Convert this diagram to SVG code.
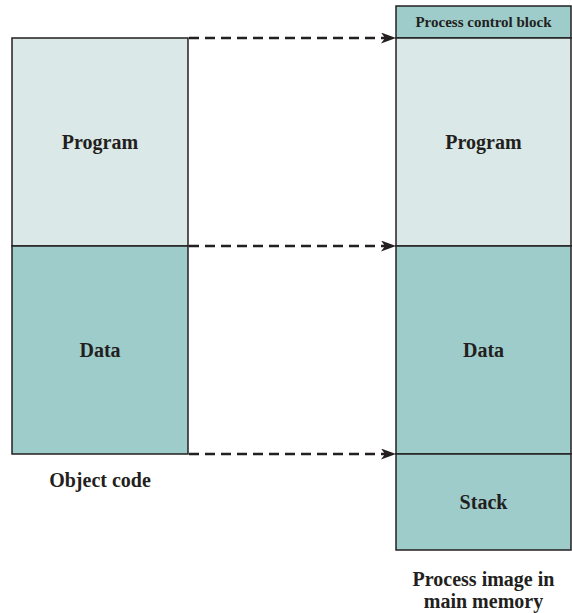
<svg xmlns="http://www.w3.org/2000/svg" width="572" height="613" viewBox="0 0 572 613">
<style>
.light{fill:#DAE8E7;stroke:#231F20;stroke-width:1.5}
.dark{fill:#9ECCCB;stroke:#231F20;stroke-width:1.5}
.t{font-family:"Liberation Serif",serif;font-weight:bold;fill:#231F20;text-anchor:middle}
.big{font-size:20px}
.small{font-size:15px}
.conn{stroke:#231F20;stroke-width:2.5;stroke-dasharray:10,6;fill:none}
</style>
<defs>
<marker id="ah" markerWidth="15" markerHeight="11" refX="14" refY="5.5" orient="auto" markerUnits="userSpaceOnUse">
<path d="M0,0 L15,5.5 L0,11 L4,5.5 Z" fill="#231F20"/>
</marker>
</defs>
<g id="object-code">
<g id="obj-program"><rect class="light" x="12" y="38" width="176" height="208"/><text class="t big" x="100" y="149">Program</text></g>
<g id="obj-data"><rect class="dark" x="12" y="246" width="176" height="208"/><text class="t big" x="100" y="357">Data</text></g>
<text class="t big" x="100" y="487">Object code</text>
</g>
<g id="process-image">
<g id="pcb"><rect class="dark" x="396" y="6" width="175" height="32"/><text class="t small" x="483.5" y="27">Process control block</text></g>
<g id="img-program"><rect class="light" x="396" y="38" width="175" height="208"/><text class="t big" x="483.5" y="149">Program</text></g>
<g id="img-data"><rect class="dark" x="396" y="246" width="175" height="208"/><text class="t big" x="483.5" y="357">Data</text></g>
<g id="img-stack"><rect class="dark" x="396" y="454" width="175" height="96"/><text class="t big" x="483.5" y="509">Stack</text></g>
<text class="t big" x="483.5" y="586">Process image in</text>
<text class="t big" x="483.5" y="608">main memory</text>
</g>
<g id="connectors">
<line class="conn" x1="189" y1="38" x2="395" y2="38" marker-end="url(#ah)"/>
<line class="conn" x1="189" y1="246" x2="395" y2="246" marker-end="url(#ah)"/>
<line class="conn" x1="189" y1="454" x2="395" y2="454" marker-end="url(#ah)"/>
</g>
</svg>
